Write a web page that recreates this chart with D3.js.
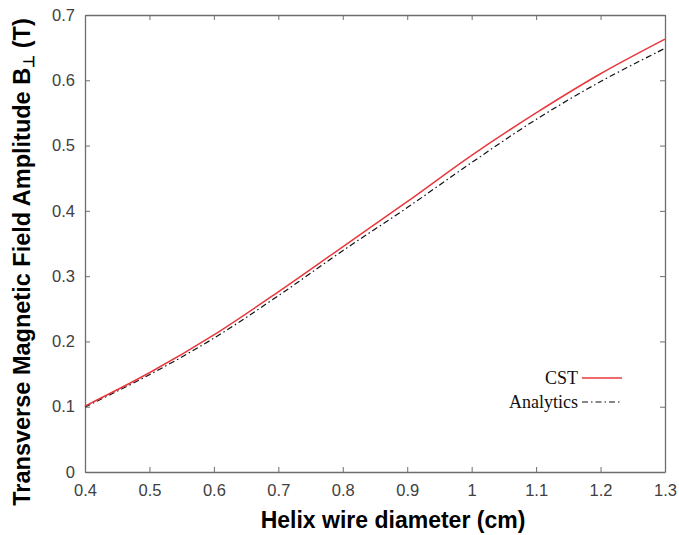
<!DOCTYPE html>
<html>
<head>
<meta charset="utf-8">
<script src="https://cdn.jsdelivr.net/npm/d3@7"></script>
<style>
  body { margin: 0; background: #fff; }
  .tick text { font-family: "Liberation Sans", Arial, sans-serif; font-size: 16.5px; fill: #404040; }
</style>
</head>
<body>
<svg width="679" height="535"></svg>
<script>
const diameter = [0.4, 0.5, 0.6, 0.7, 0.8, 0.9, 1.0, 1.1, 1.2, 1.3]
const cst = [0.101, 0.152, 0.210, 0.276, 0.345, 0.414, 0.485, 0.550, 0.610, 0.663]
const analytics = [0.0995, 0.149, 0.205, 0.270, 0.339, 0.405, 0.474, 0.540, 0.598, 0.649]
const xTicks = [0.4, 0.5, 0.6, 0.7, 0.8, 0.9, 1, 1.1, 1.2, 1.3]
const yTicks = [0, 0.1, 0.2, 0.3, 0.4, 0.5, 0.6, 0.7]

const svg = d3.select('svg')
const margin = { top: 15, right: 14, bottom: 63, left: 85 }
const width = svg.attr('width') - margin.left - margin.right
const height = svg.attr('height') - margin.top - margin.bottom

const x = d3.scaleLinear().domain([0.4, 1.3]).range([0, width])
const y = d3.scaleLinear().domain([0, 0.7]).range([height, 0])

const g = svg.append('g')
    .attr('transform', `translate(${margin.left},${margin.top})`)

const axisColor = '#6e6e6e'
const fmt = d => d3.format('')(+d.toFixed(1))

const styleAxis = sel => {
    sel.select('.domain').attr('stroke', axisColor).attr('stroke-width', 1.3)
    sel.selectAll('.tick line').attr('stroke', axisColor)
}

g.append('g')
    .attr('transform', `translate(0,${height})`)
    .call(d3.axisBottom(x).tickValues(xTicks).tickFormat(fmt).tickSizeInner(-5).tickSizeOuter(0).tickPadding(12))
    .call(styleAxis)

g.append('g')
    .call(d3.axisLeft(y).tickValues(yTicks).tickFormat(fmt).tickSizeInner(-5).tickSizeOuter(0).tickPadding(10))
    .call(styleAxis)

g.append('g')
    .call(d3.axisTop(x).tickValues(xTicks).tickFormat('').tickSizeInner(-5).tickSizeOuter(0))
    .call(styleAxis)

g.append('g')
    .attr('transform', `translate(${width},0)`)
    .call(d3.axisRight(y).tickValues(yTicks).tickFormat('').tickSizeInner(-5).tickSizeOuter(0))
    .call(styleAxis)

const line = d3.line()
    .x((d, i) => x(diameter[i]))
    .y(d => y(d))
    .curve(d3.curveCatmullRom)

g.append('path')
    .attr('d', line(analytics))
    .attr('fill', 'none')
    .attr('stroke', '#111')
    .attr('stroke-width', 1.2)
    .attr('stroke-dasharray', '6,3,1.5,3')

g.append('path')
    .attr('d', line(cst))
    .attr('fill', 'none')
    .attr('stroke', '#e8383d')
    .attr('stroke-width', 1.5)

// legend
const legend = [
    { name: 'CST', color: '#e8383d', dash: null },
    { name: 'Analytics', color: '#111', dash: '6,3,1.5,3' }
]
const lg = svg.append('g').attr('transform', 'translate(580,378)')
legend.forEach((d, i) => {
    lg.append('text')
        .attr('x', -2)
        .attr('y', i * 24 + 6)
        .attr('text-anchor', 'end')
        .style('font-family', '"Liberation Serif", "Times New Roman", serif')
        .style('font-size', '18px')
        .attr('fill', '#111')
        .text(d.name)
    lg.append('line')
        .attr('x1', 2).attr('x2', 42)
        .attr('y1', i * 24).attr('y2', i * 24)
        .attr('stroke', d.color)
        .attr('stroke-width', d.dash ? 1.2 : 1.5)
        .attr('stroke-dasharray', d.dash)
})

// axis titles
svg.append('text')
    .attr('x', margin.left + width / 2 + 18)
    .attr('y', 528)
    .attr('text-anchor', 'middle')
    .style('font-family', '"Liberation Sans", Arial, sans-serif')
    .style('font-size', '23px')
    .style('font-weight', 'bold')
    .text('Helix wire diameter (cm)')

const yl = svg.append('text')
    .attr('transform', 'translate(30,262) rotate(-90)')
    .attr('text-anchor', 'middle')
    .style('font-family', '"Liberation Sans", Arial, sans-serif')
    .style('font-size', '23.5px')
    .style('font-weight', 'bold')
yl.append('tspan').text('Transverse Magnetic Field Amplitude B')
yl.append('tspan').attr('dy', 4).style('font-size', '15px').text('⊥')
yl.append('tspan').attr('dy', -4).text(' (T)')
</script>
</body>
</html>
